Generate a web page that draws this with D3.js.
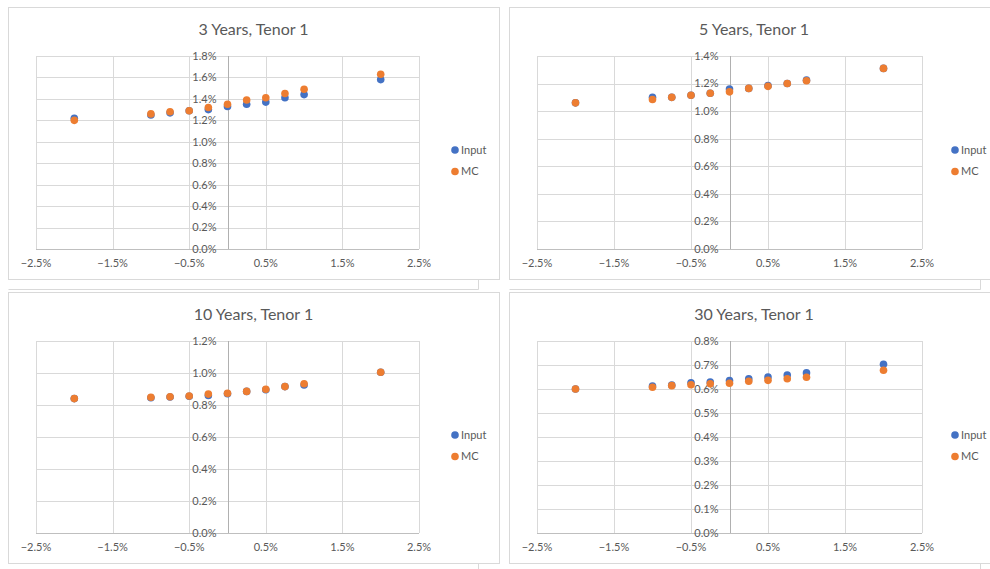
<!DOCTYPE html>
<html>
<head>
<meta charset="utf-8">
<script src="https://cdn.jsdelivr.net/npm/d3@7"></script>
<style>
  html, body { margin: 0; padding: 0; background: #fff; }
  svg { display: block; }
  text { font-family: Lato, "Open Sans", sans-serif; fill: #595959; }
</style>
</head>
<body>
<svg id="chart" width="990" height="569"></svg>
<script>
// ---- data ----
const xValues = [-2, -1, -0.75, -0.5, -0.25, 0, 0.25, 0.5, 0.75, 1, 2]; // % shift
const titles = ["3 Years, Tenor 1", "5 Years, Tenor 1", "10 Years, Tenor 1", "30 Years, Tenor 1"];
const seriesNames = ["Input", "MC"];
const input3y  = [1.22, 1.25, 1.27, 1.29, 1.30, 1.33, 1.35, 1.37, 1.41, 1.44, 1.58];
const mc3y     = [1.20, 1.26, 1.28, 1.29, 1.32, 1.35, 1.39, 1.41, 1.45, 1.49, 1.63];
const input5y  = [1.06, 1.10, 1.10, 1.115, 1.13, 1.16, 1.165, 1.185, 1.20, 1.225, 1.31];
const mc5y     = [1.06, 1.085, 1.10, 1.115, 1.13, 1.14, 1.165, 1.18, 1.20, 1.22, 1.31];
const input10y = [0.84, 0.845, 0.85, 0.855, 0.86, 0.87, 0.885, 0.895, 0.915, 0.925, 1.005];
const mc10y    = [0.84, 0.848, 0.852, 0.856, 0.868, 0.873, 0.885, 0.898, 0.915, 0.933, 1.005];
const input30y = [0.60, 0.612, 0.616, 0.626, 0.629, 0.635, 0.642, 0.650, 0.658, 0.667, 0.703];
const mc30y    = [0.60, 0.607, 0.614, 0.618, 0.622, 0.624, 0.632, 0.636, 0.643, 0.649, 0.678];
const xTicks = [-2.5, -1.5, -0.5, 0.5, 1.5, 2.5];
const yMaxes = [1.8, 1.4, 1.2, 0.8];
const ySteps = [0.2, 0.2, 0.2, 0.1];
const colors = ["#4472C4", "#ED7D31"];

const panelData = [
  [input3y, mc3y], [input5y, mc5y], [input10y, mc10y], [input30y, mc30y]
];

const svg = d3.select("#chart");
const frameColor = "#D9D9D9";

// panel geometry
const panels = [
  {ox: 0,   oy: 0,   frame: [8, 7, 491, 272],   plot: [36, 56, 419, 249]},
  {ox: 500, oy: 0,   frame: [509, 7, 490, 272], plot: [537, 56, 922, 249]},
  {ox: 0,   oy: 285, frame: [8, 292, 491, 271], plot: [36, 341, 419, 533]},
  {ox: 500, oy: 285, frame: [509, 292, 490, 271], plot: [537, 341, 922, 533]}
];

// background shadow frames (stacked charts behind)
const shadow = svg.append("g").attr("fill", "none").attr("stroke", frameColor).attr("stroke-width", 1);
shadow.append("path").attr("d", "M8.5,289.5 H478.5 V279");
shadow.append("path").attr("d", "M509.5,289.5 H980.5 V279");
shadow.append("path").attr("d", "M478.5,563 V569");
shadow.append("path").attr("d", "M980.5,563 V569");

panels.forEach((p, i) => {
  const g = svg.append("g");
  const [fx, fy, fw, fh] = p.frame;
  g.append("rect").attr("x", fx + 0.5).attr("y", fy + 0.5).attr("width", fw).attr("height", fh)
    .attr("fill", "#fff").attr("stroke", frameColor);

  const [x0, y0, x1, y1] = p.plot;
  const x = d3.scaleLinear().domain([-2.5, 2.5]).range([x0, x1]);
  const y = d3.scaleLinear().domain([0, yMaxes[i]]).range([y1, y0]);
  const yTicks = d3.range(0, yMaxes[i] + ySteps[i] / 2, ySteps[i]);

  // gridlines
  g.append("g").selectAll("line").data(yTicks).join("line")
    .attr("x1", x0).attr("x2", x1)
    .attr("y1", d => Math.round(y(d)) + 0.5).attr("y2", d => Math.round(y(d)) + 0.5)
    .attr("stroke", d => d === 0 ? "#BFBFBF" : frameColor);
  g.append("g").selectAll("line").data(xTicks).join("line")
    .attr("y1", y0).attr("y2", y1)
    .attr("x1", d => Math.round(x(d)) + 0.5).attr("x2", d => Math.round(x(d)) + 0.5)
    .attr("stroke", frameColor);
  // vertical axis at x = 0
  g.append("line").attr("x1", Math.round(x(0)) + 0.5).attr("x2", Math.round(x(0)) + 0.5)
    .attr("y1", y0).attr("y2", y1).attr("stroke", "#B0B0B0");

  // y labels
  g.append("g").selectAll("text").data(yTicks).join("text")
    .attr("x", x(0) - 11).attr("y", d => y(d)).attr("dy", "0.35em")
    .attr("text-anchor", "end").attr("font-size", 11)
    .text(d => d3.format(".1f")(d) + "%");
  // x labels
  g.append("g").selectAll("text").data(xTicks).join("text")
    .attr("x", d => x(d)).attr("y", y1 + 14).attr("dy", "0.35em")
    .attr("text-anchor", "middle").attr("font-size", 11)
    .text(d => d3.format(".1f")(d) + "%");

  // title
  g.append("text").attr("x", fx + fw / 2).attr("y", p.oy + 29).attr("dy", "0.35em")
    .attr("text-anchor", "middle").attr("font-size", 16).text(titles[i]);

  // points
  panelData[i].forEach((vals, s) => {
    g.append("g").selectAll("circle").data(vals).join("circle")
      .attr("cx", (d, k) => x(xValues[k])).attr("cy", d => y(d))
      .attr("r", 3.8).attr("fill", colors[s]);
  });

  // legend
  const lx = p.ox + 455;
  const ly = p.oy + 150;
  seriesNames.forEach((n, s) => {
    g.append("circle").attr("cx", lx).attr("cy", ly + s * 21.5).attr("r", 3.8).attr("fill", colors[s]);
    g.append("text").attr("x", lx + 6).attr("y", ly + s * 21.5).attr("dy", "0.35em")
      .attr("font-size", 11).text(n);
  });
});
</script>
</body>
</html>
